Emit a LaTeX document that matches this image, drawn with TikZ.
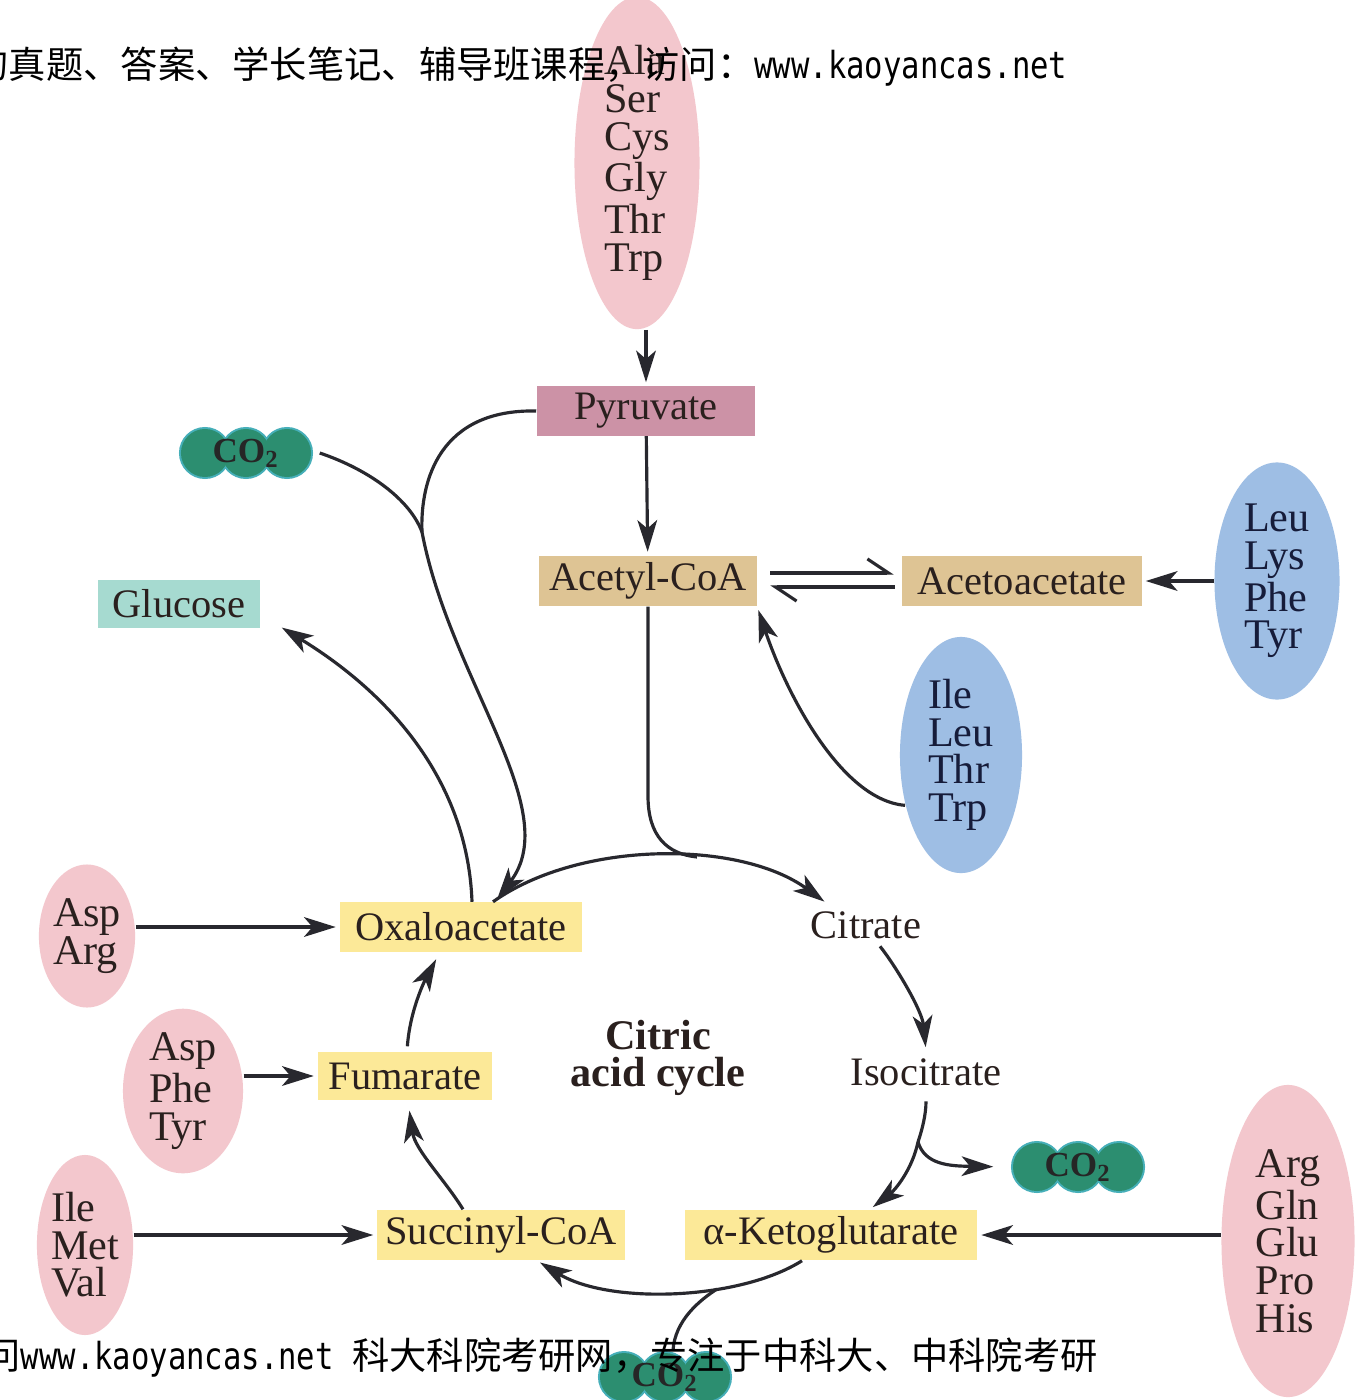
\documentclass[tikz,border=0pt]{standalone}
\usepackage{fontspec}
\setmainfont{Liberation Serif}
\newfontfamily\cjk{Noto Sans CJK SC}
\newfontfamily\wmlat[FakeStretch=0.82]{DejaVu Sans Mono}
\usetikzlibrary{arrows.meta,shapes.geometric,positioning}

\definecolor{aapink}{RGB}{243,199,205}
\definecolor{aablue}{RGB}{158,190,228}
\definecolor{pyrmauve}{RGB}{204,146,166}
\definecolor{acettan}{RGB}{222,196,148}
\definecolor{glucteal}{RGB}{166,218,208}
\definecolor{cycyellow}{RGB}{252,233,152}
\definecolor{gasgreen}{RGB}{44,142,112}
\definecolor{gasedge}{RGB}{70,175,185}
\definecolor{ink}{RGB}{42,32,30}
\definecolor{inknavy}{RGB}{22,28,58}
\definecolor{linegray}{RGB}{40,40,46}

\begin{document}
\begin{tikzpicture}
  [
    x=0.01cm, y=-0.01cm,
    metab/.style={rectangle, inner sep=0pt, minimum height=0.49cm, text=ink, font=\fontsize{11.5}{13}\selectfont},
    inter/.style={inner sep=2pt, text=ink, font=\fontsize{11.5}{13}\selectfont},
    aminos/.style={ellipse, inner sep=0pt, align=left, text=ink, font=\fontsize{12}{10.7}\selectfont},
    gas/.style={rectangle, fill=white, inner sep=0pt, minimum width=1.34cm, minimum height=0.52cm,
      text=black!85, font=\bfseries\fontsize{10}{12}\selectfont,
      path picture={
        \foreach \dx in {-0.41cm,0cm,0.41cm}
          \fill[gasedge] ([xshift=\dx]path picture bounding box.center) circle[radius=0.26cm];
        \foreach \dx in {-0.41cm,0cm,0.41cm}
          \fill[gasgreen] ([xshift=\dx]path picture bounding box.center) circle[radius=0.24cm];
      }},
    wire/.style={draw=linegray, line width=0.9pt},
    flow/.style={wire, -{Stealth[length=9pt,width=5.6pt,inset=2.4pt]}, shorten >=1pt},
    eqline/.style={wire, -{Straight Barb[left,length=6pt,width=8pt]}},
    wmark/.style={inner sep=0pt, anchor=base west, text=black, font=\cjk\fontsize{10.6}{12}\selectfont}
  ]
  \fill[white] (0,0) rectangle (1364,1400);
  \useasboundingbox (0,0) rectangle (1364,1400);

  % feeders and metabolites
  \node[aminos, fill=aapink, minimum width=1.25cm, minimum height=3.17cm] (aaGlyc) at (637,163) {Ala\\Ser\\Cys\\Gly\\Thr\\Trp};
  \node[metab, fill=pyrmauve, minimum width=2.18cm] (pyr) at (646,411) {Pyruvate};
  \node[metab, fill=acettan, minimum width=2.17cm, minimum height=0.5cm] (acetyl) at (648,581) {Acetyl-CoA};
  \node[metab, fill=acettan, minimum width=2.39cm, minimum height=0.5cm] (acetoac) at (1022,581) {Acetoacetate};
  \node[aminos, fill=aablue, text=inknavy, minimum width=1.25cm, minimum height=2.37cm] (aaKeto) at (1277,581) {Leu\\Lys\\Phe\\Tyr};
  \node[aminos, fill=aablue, text=inknavy, minimum width=1.22cm, minimum height=2.36cm] (aaMixed) at (961,755) {Ile\\Leu\\Thr\\Trp};
  \node[metab, fill=glucteal, minimum width=1.62cm, minimum height=0.48cm] (gluc) at (179,604) {Glucose};
  \node[gas] (co2a) at (246,453) {CO\textsubscript{2}};

  % the cycle
  \node[metab, fill=cycyellow, minimum width=2.42cm] (oxalo) at (461,927) {Oxaloacetate};
  \node[inter] (citr) at (866,925) {Citrate};
  \node[inter] (isocit) at (926,1072) {Isocitrate};
  \node[gas] (co2b) at (1078,1167) {CO\textsubscript{2}};
  \node[metab, fill=cycyellow, minimum width=2.92cm, minimum height=0.5cm] (akg) at (831,1235) {α-Ketoglutarate};
  \node[metab, fill=cycyellow, minimum width=2.47cm, minimum height=0.5cm] (succ) at (501,1235) {Succinyl-CoA};
  \node[metab, fill=cycyellow, minimum width=1.74cm, minimum height=0.48cm] (fum) at (405,1076) {Fumarate};
  \node[gas] (co2c) at (665,1377) {CO\textsubscript{2}};
  \node[align=center, text=ink, font=\bfseries\fontsize{12}{10.7}\selectfont] (cycle) at (658,1058) {Citric\\acid cycle};

  \node[aminos, fill=aapink, minimum width=0.85cm, minimum height=1.43cm] (aaAsp) at (87,936) {Asp\\Arg};
  \node[aminos, fill=aapink, minimum width=1.2cm, minimum height=1.62cm] (aaArom) at (183,1091) {Asp\\Phe\\Tyr};
  \node[aminos, fill=aapink, minimum width=0.95cm, minimum height=1.8cm] (aaBranch) at (85,1245) {Ile\\Met\\Val};
  \node[aminos, fill=aapink, minimum width=1.33cm, minimum height=3.12cm] (aaGlu) at (1288,1241) {Arg\\Gln\\Glu\\Pro\\His};

  % junctions
  \coordinate (jPyr) at (422,532);
  \coordinate (jAcet) at (697,857);
  \coordinate (jIso) at (918,1142);
  \coordinate (jKg) at (717,1289);

  \draw[flow] (pyr.north |- aaGlyc.south) -- (pyr.north);
  \draw[flow] (pyr) -- (acetyl);
  \draw[eqline, shorten <=0.13cm, shorten >=0.08cm] ([yshift=0.08cm]acetyl.east) -- ([yshift=0.08cm]acetoac.west);
  \draw[eqline, shorten <=0.07cm, shorten >=0.13cm] ([yshift=-0.06cm]acetoac.west) -- ([yshift=-0.06cm]acetyl.east);
  \draw[flow] (aaKeto.west) -- (acetoac.east);
  \draw[flow] (aaMixed.222) .. controls (840,800) and (785,690) .. (acetyl.south east);

  \draw[wire] (pyr.west) .. controls (440,409) and (420,480) .. (jPyr);
  \draw[wire] ([xshift=0.06cm]co2a.east) .. controls (370,470) and (410,500) .. (jPyr);
  \draw[flow] (jPyr) .. controls (450,680) and (565,810) .. ([xshift=0.34cm]oxalo.north);
  \draw[flow] ([xshift=0.11cm]oxalo.north) .. controls (468,790) and (400,700) .. ([xshift=0.18cm,yshift=0.03cm]gluc.south east);

  \draw[wire] (acetyl.south) -- (648,796) .. controls (648,836) and (667,854) .. (jAcet);
  \draw[flow] ([xshift=0.32cm]oxalo.north) .. controls (580,840) and (740,840) .. ([xshift=0.24cm]citr.north west);
  \draw[flow] ([xshift=0.14cm]citr.south) .. controls (895,965) and (922,1010) .. (isocit.north);
  \draw[flow, shorten <=0.08cm] (isocit.south) .. controls (926,1115) and (922,1130) .. (jIso)
    .. controls (912,1170) and (895,1190) .. ([xshift=0.39cm]akg.north);
  \draw[flow, shorten >=0.17cm] (jIso) .. controls (925,1165) and (950,1166) .. (co2b.west);
  \draw[flow] ([xshift=-0.29cm]akg.south) .. controls (740,1300) and (610,1305) .. ([xshift=0.36cm]succ.south);
  \draw[wire] (jKg) .. controls (700,1300) and (675,1320) .. ([xshift=0.08cm]co2c.north);
  \draw[flow, shorten >=0.1cm] ([xshift=-0.38cm]succ.north) .. controls (445,1180) and (415,1150) .. ([xshift=0.03cm]fum.south);
  \draw[flow, shorten <=0.05cm, shorten >=0.08cm] ([xshift=0.02cm]fum.north) .. controls (410,1010) and (425,980) .. ([xshift=-0.21cm]oxalo.south);

  \draw[flow] (aaAsp.east |- oxalo.west) -- (oxalo.west);
  \draw[flow] (aaArom.east |- fum.west) -- (fum.west);
  \draw[flow] (aaBranch.east |- succ.west) -- (succ.west);
  \draw[flow] (aaGlu.west |- akg.east) -- (akg.east);

  % watermark lines
  \node[wmark] (wmTop) at (-29,79) {的真题、答案、学长笔记、辅导班课程，访问：{\wmlat www.kaoyancas.net}};
  \node[wmark] (wmBottom) at (-17,1369) {问{\wmlat www.kaoyancas.net }科大科院考研网，专注于中科大、中科院考研};
\end{tikzpicture}
\end{document}
